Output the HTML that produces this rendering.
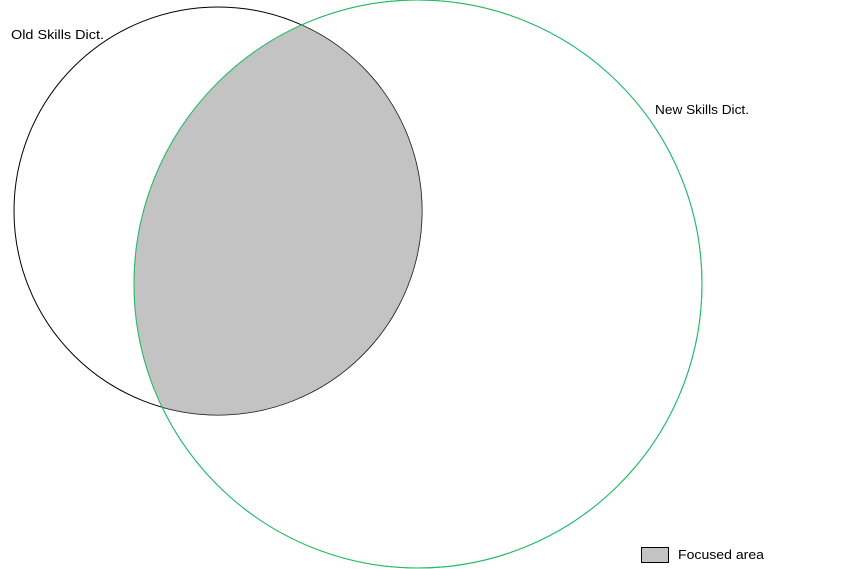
<!DOCTYPE html>
<html>
<head>
<meta charset="utf-8">
<style>
  html,body{margin:0;padding:0;background:#fff;}
  svg{display:block;}
  text{font-family:"Liberation Sans",sans-serif;font-size:12.5px;fill:#000;}
</style>
</head>
<body>
<svg id="chart" width="854" height="569" viewBox="0 0 854 569"></svg>
<script>
const setNames = ["Old Skills Dict.", "New Skills Dict."];
const setCenterX = [218, 418];
const setCenterY = [211, 284];
const setRadius = [204, 284];
const setColors = ["#000000", "#22bb66"];
const legendLabels = ["Focused area"];

const NS = "http://www.w3.org/2000/svg";
const svg = document.getElementById("chart");
function mk(tag, attrs){ const e=document.createElementNS(NS,tag); for(const k in attrs) e.setAttribute(k,attrs[k]); return e; }

const defs = mk("defs",{});
const clip = mk("clipPath",{id:"clipB"});
clip.appendChild(mk("circle",{cx:setCenterX[1],cy:setCenterY[1],r:setRadius[1]}));
defs.appendChild(clip);
svg.appendChild(defs);

for(let i=0;i<setNames.length;i++){
  const c = mk("circle",{cx:setCenterX[i],cy:setCenterY[i],r:setRadius[i],fill:"none",stroke:setColors[i],"stroke-width":1});
  
  
  svg.appendChild(c);
}

const inter = mk("circle",{cx:setCenterX[0],cy:setCenterY[0],r:setRadius[0],fill:"#c3c3c3","clip-path":"url(#clipB)",stroke:"#000","stroke-opacity":0.35,"stroke-width":1});


svg.appendChild(inter);

const green = mk("circle",{cx:setCenterX[1],cy:setCenterY[1],r:setRadius[1],fill:"none",stroke:setColors[1],"stroke-width":1});


svg.appendChild(green);

const t1 = mk("text",{x:11,y:39,textLength:93,lengthAdjust:"spacingAndGlyphs"});
t1.textContent = setNames[0];


svg.appendChild(t1);

const t2 = mk("text",{x:655,y:114,textLength:94,lengthAdjust:"spacingAndGlyphs"});
t2.textContent = setNames[1];


svg.appendChild(t2);

const lg = mk("rect",{x:641.5,y:547.5,width:27,height:15,fill:"#c3c3c3",stroke:"#000","stroke-width":1});


svg.appendChild(lg);

const lt = mk("text",{x:678,y:559,textLength:86,lengthAdjust:"spacingAndGlyphs"});
lt.textContent = legendLabels[0];


svg.appendChild(lt);
</script>
</body>
</html>
